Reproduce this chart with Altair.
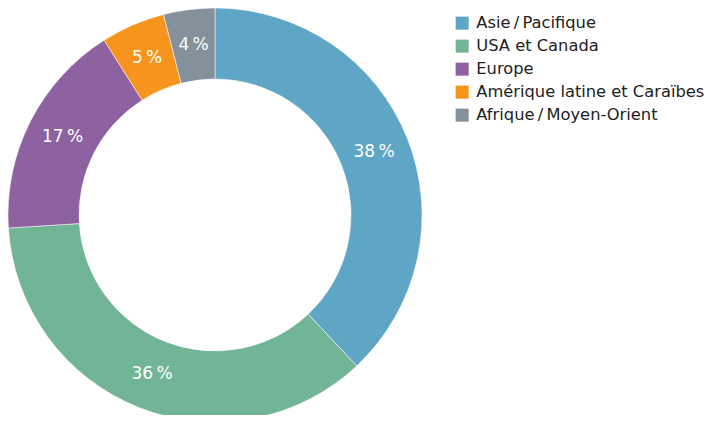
import altair as alt
import pandas as pd

regions = ["Asie\u2009/\u2009Pacifique", "USA et Canada", "Europe",
           "Amérique latine et Caraïbes", "Afrique\u2009/\u2009Moyen-Orient"]
values = [38, 36, 17, 5, 4]
labels = ["38\u202f%", "36\u202f%", "17\u202f%", "5\u202f%", "4\u202f%"]
colors = ["#5fa5c6", "#72b496", "#8e61a0", "#f7941d", "#84909a"]

df = pd.DataFrame({"region": regions, "value": values, "label": labels,
                   "order": list(range(len(regions)))})

FONT = "DejaVu Sans"
cx, cy = 207, 207

base = alt.Chart(df).encode(
    theta=alt.Theta("value:Q", stack=True),
    order=alt.Order("order:Q"),
)

arcs = base.mark_arc(outerRadius=207, innerRadius=136, stroke="white", strokeWidth=0.5).encode(
    x=alt.value(cx), y=alt.value(cy),
    color=alt.Color("region:N", sort=regions,
                    scale=alt.Scale(domain=regions, range=colors),
                    legend=alt.Legend(title=None, orient="none", legendX=446, legendY=7,
                                      symbolType="square", symbolSize=170,
                                      symbolStrokeWidth=0,
                                      labelFont=FONT, labelFontSize=16.3,
                                      labelColor="#222222", rowPadding=6,
                                      labelOffset=6, labelLimit=400)),
)

text = base.mark_text(radius=171, font=FONT, fontSize=17, color="white").encode(
    x=alt.value(cx), y=alt.value(cy),
    text="label:N",
)

chart = (arcs + text).properties(
    width=699, height=407, autosize=alt.AutoSizeParams(type="none"),
    padding=0,
).configure_view(stroke=None)

chart.save("out.html", embed_options={"renderer": "svg", "actions": False})
